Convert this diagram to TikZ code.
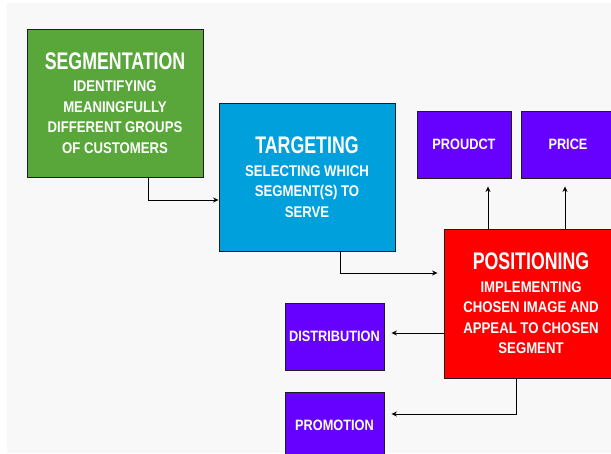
\documentclass[tikz,border=0pt]{standalone}
\usepackage{fontspec}
\usetikzlibrary{arrows.meta}
\newfontfamily\ttlfont{Liberation Sans}[FakeStretch=0.74]
\newfontfamily\bdyfont{Liberation Sans}[FakeStretch=0.85,BoldFont={Liberation Sans Bold}]
\definecolor{segcol}{RGB}{89,166,59}
\definecolor{tarcol}{RGB}{0,160,220}
\definecolor{mixcol}{RGB}{102,0,255}
\definecolor{poscol}{RGB}{255,0,0}
\definecolor{bgcol}{RGB}{248,248,248}
\definecolor{edgecol}{RGB}{30,30,30}
\tikzset{
  box/.style={draw=edgecol, line width=0.9pt, text=white, align=center, inner sep=0pt,
    font={\bdyfont\bfseries\fontsize{15.5}{20.5}\selectfont}},
  mixbox/.style={box, fill=mixcol, minimum width=94pt, minimum height=67pt,
    font={\bdyfont\bfseries\fontsize{15}{18}\selectfont}},
  arr/.style={draw=black, line width=1pt, -{Stealth[length=5.5pt,width=5pt]}}
}
\newcommand{\ttltext}[1]{{\ttlfont\bfseries\fontsize{24}{24}\selectfont #1}}
\begin{document}
\begin{tikzpicture}[x=1pt,y=-1pt]
\useasboundingbox (0,0) rectangle (611,453);
\clip (0,0) rectangle (611,453);
\fill[white] (0,0) rectangle (611,453);
\fill[bgcol] (7,3) rectangle (611,453);
\node[box, fill=segcol, minimum width=176pt, minimum height=148pt] (seg) at (115,103)
  {\ttltext{SEGMENTATION}\\[2pt] IDENTIFYING\\ MEANINGFULLY\\ DIFFERENT GROUPS\\ OF CUSTOMERS};
\node[box, fill=tarcol, minimum width=176pt, minimum height=148pt] (tar) at (307,177)
  {\ttltext{TARGETING}\\[2pt] SELECTING WHICH\\ SEGMENT(S) TO\\ SERVE};
\node[box, fill=poscol, minimum width=174pt, minimum height=149pt] (pos) at (531,303.5)
  {\ttltext{POSITIONING}\\[2pt] IMPLEMENTING\\ CHOSEN IMAGE AND\\ APPEAL TO CHOSEN\\ SEGMENT};
\node[mixbox] (prod) at (464,144.5) {PROUDCT};
\node[mixbox] (price) at (568,144.5) {PRICE};
\node[mixbox, minimum width=99pt] (dist) at (334.5,336.5) {DISTRIBUTION};
\node[mixbox, minimum width=99pt] (promo) at (334.5,425.5) {PROMOTION};
\coordinate (c1) at (148,200);
\coordinate (c2) at (340,273);
\coordinate (c3) at (488,0);
\coordinate (c4) at (565,0);
\coordinate (c5) at (0,333);
\coordinate (c6) at (516,414);
\draw[arr] (seg.south -| c1) |- (tar.west |- c1);
\draw[arr, shorten >=6pt] (tar.south -| c2) |- (pos.west |- c2);
\draw[arr, shorten >=8pt] (pos.north -| c3) -- (prod.south -| c3);
\draw[arr, shorten >=8pt] (pos.north -| c4) -- (price.south -| c4);
\draw[arr, shorten >=7pt] (pos.west |- c5) -- (dist.east |- c5);
\draw[arr, shorten >=7pt] (pos.south -| c6) |- (promo.east |- c6);
\end{tikzpicture}
\end{document}
